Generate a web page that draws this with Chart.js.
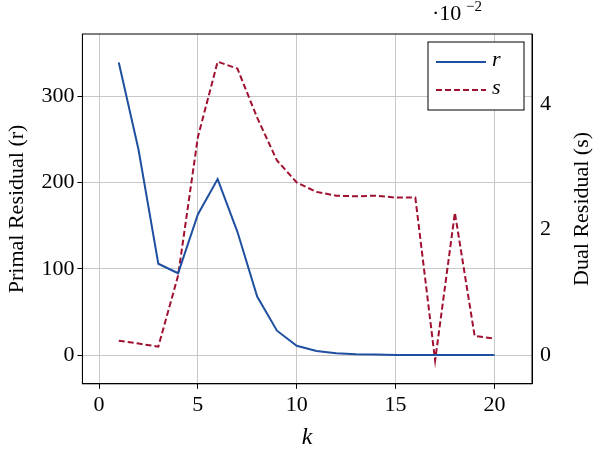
<!DOCTYPE html>
<html><head><meta charset="utf-8">
<script src="https://cdn.jsdelivr.net/npm/chart.js@4"></script>
<style>html,body{margin:0;padding:0;background:#fff}#w{width:594px;height:456px}</style>
</head><body><div id="w"><canvas id="c"></canvas></div>
<script>
const kValues = [1,2,3,4,5,6,7,8,9,10,11,12,13,14,15,16,17,18,19,20];
const rValues = [339,238,106,95,163,204,143,68,28.5,11,5,2.5,1.2,0.8,0.4,0.3,0.3,0.3,0.3,0.3];
const sValues = [0.235,0.19,0.14,1.27,3.47,4.67,4.56,3.78,3.1,2.75,2.6,2.54,2.53,2.54,2.51,2.51,-0.08,2.27,0.31,0.27]; // ×1e-2
const F = "'Liberation Serif', serif";
const ann = {id:'ann', afterDraw(ch){
  const c=ch.ctx, a=ch.chartArea; c.save(); c.fillStyle='#000';
  c.font="22px "+F; c.textAlign='left'; c.textBaseline='alphabetic';
  c.fillText('·10',a.right-100,20); c.font="15px "+F; c.fillText('−2',a.right-66,11);
  c.font="22px "+F; c.textAlign='center'; c.textBaseline='middle';
  c.translate(582,(a.top+a.bottom)/2); c.rotate(-Math.PI/2); c.fillText('Dual Residual (s)',0,0);
  c.restore(); c.save();
  c.strokeStyle='#000'; c.lineWidth=1; c.strokeRect(a.left,a.top,a.right-a.left,a.bottom-a.top);
  c.restore();}};
new Chart(document.getElementById('c'),{
  type:'line',
  data:{datasets:[
    {label:'r',data:kValues.map((k,i)=>({x:k,y:rValues[i]})),borderColor:'#1f4fa0',borderWidth:2,pointRadius:0,yAxisID:'y',tension:0},
    {label:'s',data:kValues.map((k,i)=>({x:k,y:sValues[i]})),borderColor:'#a0102f',borderWidth:2,borderDash:[6,3],pointRadius:0,yAxisID:'y2',tension:0}
  ]},
  options:{responsive:true,maintainAspectRatio:false,animation:false,
    layout:{padding:{top:34,right:40,left:0,bottom:0}},
    plugins:{legend:{display:false},tooltip:{enabled:false}},
    scales:{
      x:{type:'linear',min:-0.84,max:21.9,afterBuildTicks:s=>{s.ticks=[0,5,10,15,20].map(v=>({value:v}))},
        grid:{color:'#c8c8c8',tickLength:5,tickColor:'#000'},border:{color:'#000'},
        ticks:{color:'#000',font:{family:F,size:22}},
        title:{display:true,text:'k',color:'#000',font:{family:F,size:24,style:'italic'},padding:{top:2}}},
      y:{min:-33,max:372,afterBuildTicks:s=>{s.ticks=[0,100,200,300].map(v=>({value:v}))},
        grid:{color:'#c8c8c8',tickLength:5,tickColor:'#000'},border:{color:'#000'},
        ticks:{color:'#000',font:{family:F,size:22}},
        title:{display:true,text:'Primal Residual (r)',color:'#000',font:{family:F,size:22},padding:{bottom:8}}},
      y2:{position:'right',min:-0.45,max:5.11,afterBuildTicks:s=>{s.ticks=[0,2,4].map(v=>({value:v}))},
        grid:{display:false,tickLength:5,tickColor:'#000'},border:{color:'#000'},
        ticks:{color:'#000',font:{family:F,size:22}}}
    }},
  plugins:[ann,{id:'leg',afterDraw(ch){
    const c=ch.ctx,a=ch.chartArea; c.save();
    const x=a.right-104,y=a.top+8,w=96,h=68;
    c.fillStyle='#fff';c.fillRect(x,y,w,h);c.strokeStyle='#000';c.lineWidth=1;c.strokeRect(x,y,w,h);
    c.lineWidth=2;c.strokeStyle='#1f4fa0';c.beginPath();c.moveTo(x+8,y+20);c.lineTo(x+58,y+20);c.stroke();
    c.strokeStyle='#a0102f';c.setLineDash([6,3]);c.beginPath();c.moveTo(x+8,y+48);c.lineTo(x+58,y+48);c.stroke();
    c.setLineDash([]);c.fillStyle='#000';c.font="italic 22px "+F;c.textBaseline='middle';
    c.fillText('r',x+64,y+18);c.fillText('s',x+64,y+46);c.restore();}}]
});
</script></body></html>
